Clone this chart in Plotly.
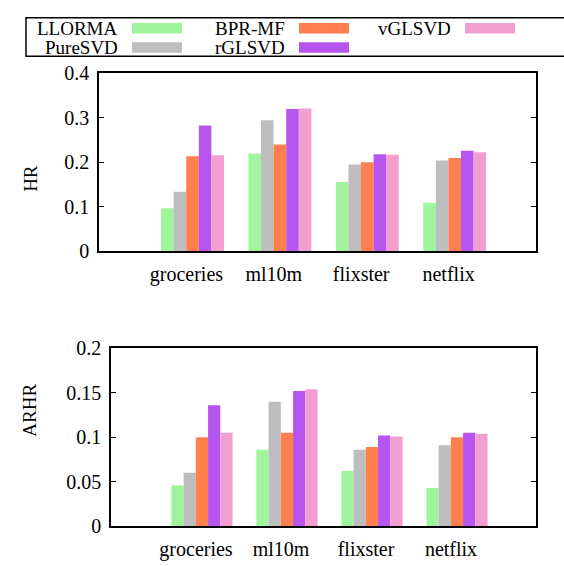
import plotly.graph_objects as go

datasets = ["groceries", "ml10m", "flixster", "netflix"]
methods = ["LLORMA", "PureSVD", "BPR-MF", "rGLSVD", "vGLSVD"]
colors = ["#a0f49c", "#bebebe", "#ff7f4f", "#b656ef", "#f29fd0"]

hr_llorma = [0.097, 0.220, 0.156, 0.109]
hr_puresvd = [0.134, 0.295, 0.195, 0.204]
hr_bprmf = [0.214, 0.240, 0.200, 0.210]
hr_rglsvd = [0.283, 0.320, 0.218, 0.226]
hr_vglsvd = [0.216, 0.321, 0.217, 0.223]

arhr_llorma = [0.046, 0.086, 0.062, 0.043]
arhr_puresvd = [0.060, 0.140, 0.086, 0.091]
arhr_bprmf = [0.100, 0.105, 0.089, 0.100]
arhr_rglsvd = [0.136, 0.152, 0.102, 0.105]
arhr_vglsvd = [0.105, 0.154, 0.101, 0.104]

hr_series = [hr_llorma, hr_puresvd, hr_bprmf, hr_rglsvd, hr_vglsvd]
arhr_series = [arhr_llorma, arhr_puresvd, arhr_bprmf, arhr_rglsvd, arhr_vglsvd]

W, H = 564, 566
FONT = "Liberation Serif, Times New Roman, serif"

def px_x(p):
    return p / W

def px_y(p):
    return 1 - p / H

fig = go.Figure()
xpos = list(range(len(datasets)))
for i, m in enumerate(methods):
    fig.add_trace(go.Bar(x=xpos, y=hr_series[i], name=m, marker_color=colors[i],
                         marker_line_width=0, xaxis="x", yaxis="y", offsetgroup=str(i),
                         showlegend=False))
for i, m in enumerate(methods):
    fig.add_trace(go.Bar(x=xpos, y=arhr_series[i], name=m, marker_color=colors[i],
                         marker_line_width=0, xaxis="x2", yaxis="y2", offsetgroup=str(i),
                         showlegend=False))

tickfont = dict(family=FONT, size=20, color="black")
common_x = dict(range=[-1.07, 3.93], tickvals=[v - 0.07 for v in xpos], ticktext=datasets,
                showline=True, linecolor="black", linewidth=1.5, mirror=True, ticks="",
                showgrid=False, zeroline=False, tickfont=tickfont, ticklabelstandoff=4)
common_y = dict(showline=True, linecolor="black", linewidth=1.5, mirror="ticks", ticks="inside",
                ticklen=5, tickcolor="black", tickwidth=1, showgrid=False, zeroline=False,
                tickfont=tickfont, ticklabelstandoff=4)

fig.update_layout(
    width=W, height=H, margin=dict(l=0, r=0, t=0, b=0),
    paper_bgcolor="white", plot_bgcolor="white",
    barmode="group", bargap=0.28, bargroupgap=0,
    font=dict(family=FONT, size=18, color="black"),
    xaxis=dict(domain=[px_x(99), px_x(536)], anchor="y", **common_x),
    yaxis=dict(domain=[px_y(250), px_y(65)], anchor="x", range=[0, 0.4],
               tickvals=[0, 0.1, 0.2, 0.3, 0.4], ticktext=["0", "0.1", "0.2", "0.3", "0.4"], **common_y),
    xaxis2=dict(domain=[px_x(111), px_x(536)], anchor="y2", **common_x),
    yaxis2=dict(domain=[px_y(536), px_y(351)], anchor="x2", range=[0, 0.2],
                tickvals=[0, 0.05, 0.1, 0.15, 0.2], ticktext=["0", "0.05", "0.1", "0.15", "0.2"], **common_y),
)

annotations = [
    dict(text="HR", x=px_x(18), y=px_y(158), xref="paper", yref="paper", textangle=-90,
         showarrow=False, font=dict(family=FONT, size=19, color="black")),
    dict(text="ARHR", x=px_x(17), y=px_y(445), xref="paper", yref="paper", textangle=-90,
         showarrow=False, font=dict(family=FONT, size=19, color="black")),
]
shapes = [dict(type="rect", xref="paper", yref="paper", x0=px_x(26), x1=px_x(570),
               y0=px_y(47), y1=px_y(7), line=dict(color="black", width=1.5), fillcolor="rgba(0,0,0,0)")]

# legend layout (gnuplot style: right-justified text then swatch)
text_right = [120, 120, 287, 287, 453]
row_y = [18, 38, 18, 38, 18]
for i, m in enumerate(methods):
    tr = text_right[i]
    yc = row_y[i]
    annotations.append(dict(text=m, x=px_x(tr), y=px_y(yc), xref="paper", yref="paper",
                            xanchor="right", yanchor="middle", showarrow=False,
                            font=dict(family=FONT, size=19, color="black")))
    shapes.append(dict(type="rect", xref="paper", yref="paper", x0=px_x(tr + 12), x1=px_x(tr + 62),
                       y0=px_y(yc + 5.5), y1=px_y(yc - 5.5), fillcolor=colors[i], line=dict(width=0)))

fig.update_layout(annotations=annotations, shapes=shapes)
fig.write_html("out.html")
